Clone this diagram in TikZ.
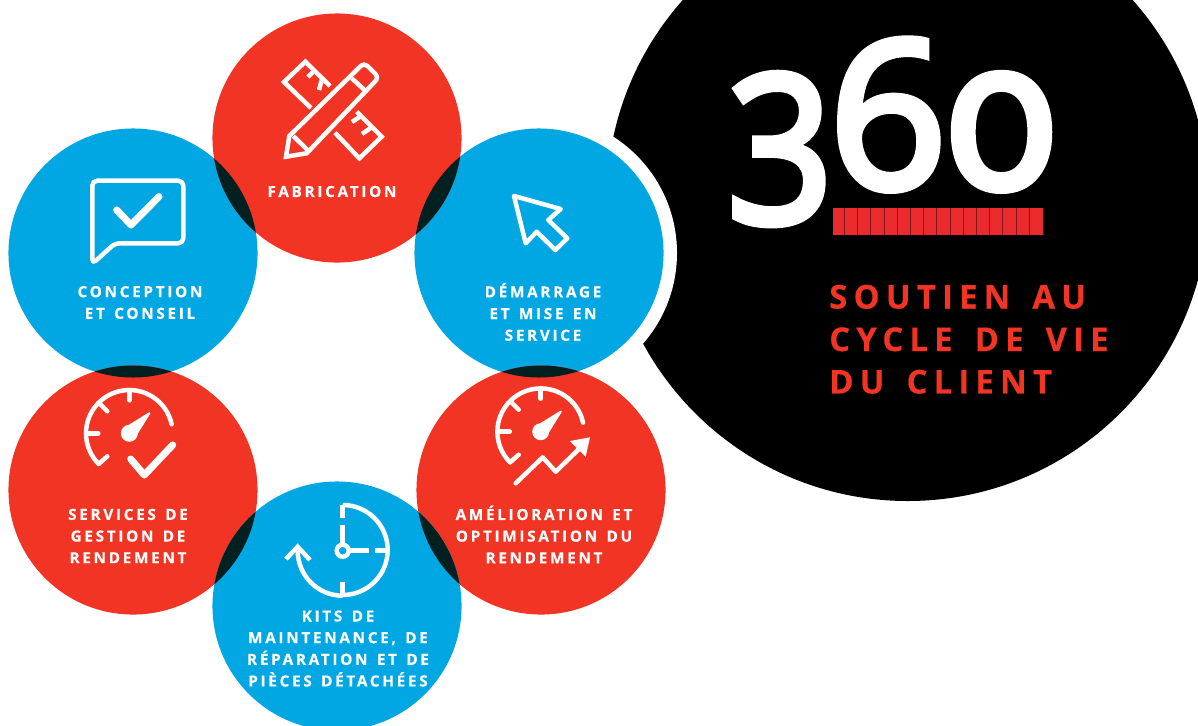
\documentclass[tikz,border=0pt]{standalone}
\usepackage{fontspec}
\setmainfont{Open Sans}
\newfontfamily\labelfont[LetterSpace=17.5,WordSpace=1.4,FakeBold=0.4]{Open Sans Bold}
\newfontfamily\titlefont[LetterSpace=19,WordSpace=1.5,FakeBold=0.4]{Open Sans Bold}
\newfontfamily\numfont[Numbers=OldStyle,FakeBold=3.9]{Open Sans}
\definecolor{cyclered}{HTML}{F13423}
\definecolor{cycleblue}{HTML}{00A7E3}
\definecolor{lens}{HTML}{02201F}
\definecolor{barred}{HTML}{EA2A2D}
\tikzset{
	bubble/.style={circle,minimum size=6.225cm,inner sep=0pt},
	caption/.style={text=white,align=center,inner sep=0pt,font=\labelfont\fontsize{10.9}{15.4}\selectfont},
	digit/.style={text=white,inner sep=0pt,anchor=base west,font=\numfont\fontsize{146}{146}\selectfont},
	thinicon/.style={draw=white,line width=3.2pt,line join=round,line cap=round},
	fatcheck/.style={draw=white,line width=5pt,line join=round,line cap=round}
}
% speedometer shared by two of the bubbles
\newcommand{\gaugeicon}[2]{
	\draw[thinicon] ({#1+43.3*cos(12)},{#2-43.3*sin(12)}) arc[start angle=-12,end angle=-225,radius=43.3];
	\draw[thinicon] (#1,#2-43.3) -- (#1,#2-33);
	\draw[thinicon] (#1-43.3,#2) -- (#1-31,#2);
	\draw[thinicon] (#1-29,#2-29) -- (#1-22,#2-22);
	\draw[thinicon] (#1-30.6,#2+30.6) -- (#1-22,#2+23);
	\fill[white] (#1,#2) circle (8.5);
	\filldraw[white,line width=0.8pt,line join=round] (#1-5,#2-5) -- (#1+20,#2-20.5) -- (#1+20.5,#2-20) -- (#1+5,#2+5) -- cycle;
}
\begin{document}
\begin{tikzpicture}[x=0.025cm,y=-0.025cm]
	\useasboundingbox (0,0) rectangle (1198,725);
	\clip (0,0) rectangle (1198,725);
	\fill[white] (0,0) rectangle (1198,725);
	\fill[black] (907.7,200) circle (301);
	\fill[white] (539,253) circle (138);

	\node[bubble,fill=cycleblue] (conception) at (133,253) {};
	\node[bubble,fill=cycleblue] (demarrage) at (539,253) {};
	\node[bubble,fill=cyclered] (services) at (133,490) {};
	\node[bubble,fill=cyclered] (amelioration) at (541,490) {};
	\node[bubble,fill=cycleblue] (kits) at (337,606) {};
	\node[bubble,fill=cyclered] (fabrication) at (337,138) {};

	% overlaps of neighbouring bubbles
	\begin{scope}
		\clip (fabrication.center) circle (124.5);
		\fill[lens] (conception.center) circle (124.5);
		\fill[lens] (demarrage.center) circle (124.5);
	\end{scope}
	\begin{scope}
		\clip (services.center) circle (124.5);
		\fill[lens] (conception.center) circle (124.5);
		\fill[lens] (kits.center) circle (124.5);
	\end{scope}
	\begin{scope}
		\clip (amelioration.center) circle (124.5);
		\fill[lens] (demarrage.center) circle (124.5);
		\fill[lens] (kits.center) circle (124.5);
	\end{scope}

	% ruler and pencil
	\draw[thinicon,line cap=butt,line join=miter] (311,108) -- (284,82) -- (305.3,61.7) -- (330,86);
	\draw[thinicon,line cap=butt] (314,71) -- (308,77);
	\draw[thinicon,line cap=butt] (322,79) -- (319,90);
	\draw[thinicon,line cap=butt,line join=miter] (335,132.7) -- (359.3,158.3) -- (381.7,136.7) -- (356.7,111.7);
	\draw[thinicon,line cap=butt] (361,116) -- (352,122);
	\draw[thinicon,line cap=butt] (372,127) -- (362,134);
	\draw[thinicon,line cap=butt,line join=miter] (286,156.7) -- (289.3,136) -- (360,66.7) .. controls (363,64) and (365,64) .. (367.5,66) -- (375.5,74) .. controls (377.5,76.5) and (377.5,79) .. (375,81.5) -- (306.7,153.3) -- cycle;
	\draw[thinicon,line cap=butt] (293.3,136) -- (309.3,151.7);
	\draw[thinicon,line cap=butt] (351.7,78.3) -- (366.7,92);

	% speech bubble
	\draw[thinicon,rounded corners=3.5] (92.3,264) -- (92.3,180.7) -- (183.3,180.7) -- (183.3,243.3) -- (115,243.3) -- cycle;
	\draw[fatcheck] (116.7,210) -- (131,225) -- (159,196.7);

	% cursor
	\draw[thinicon] (514,196) -- (560.7,209) -- (548.3,220) -- (567.3,238.3) -- (555.3,250) -- (536.7,231.7) -- (525.7,243.3) -- cycle;

	% gauges
	\gaugeicon{129.3}{433.3}
	\draw[fatcheck] (130.7,459) -- (144.3,475) -- (172.7,445);
	\gaugeicon{540.7}{431.7}
	\draw[thinicon] (515.7,483.3) -- (542.7,457.3) -- (555.7,471.7) -- (582,446);
	\fill[white] (570,441) -- (590,437.3) -- (585.7,456.7) -- cycle;

	% clock
	\draw[thinicon,line cap=butt] (342.7,505) arc[start angle=-90,end angle=90,radius=45];
	\draw[thinicon,line cap=butt] (342.7,505) -- (342.7,518);
	\draw[thinicon,line cap=butt] (342.7,525) -- (342.7,544);
	\draw[thinicon,line cap=butt] (350,550.7) -- (369.3,550.7);
	\draw[thinicon,line cap=butt] (375,550.7) -- (386.7,550.7);
	\draw[thinicon,line cap=butt] (342.7,581.7) -- (342.7,596.7);
	\draw[thinicon] (342.7,550.7) circle (6);
	\draw[thinicon,line cap=butt] (342.7,595.7) arc[start angle=90,end angle=180,radius=45];
	\draw[thinicon,line cap=butt,line join=miter] (286,559) -- (297.7,546.7) -- (310,560);

	\node[caption] (fabricationtext) at (332,191.5) {FABRICATION};
	\node[caption] (conceptiontext) at (140,302.5) {CONCEPTION\\ET CONSEIL};
	\node[caption] (demarragetext) at (543,312) {DÉMARRAGE\\ET MISE EN\\SERVICE};
	\node[caption] (servicestext) at (128,536) {SERVICES DE\\GESTION DE\\RENDEMENT};
	\node[caption] (ameliorationtext) at (544,534.5) {AMÉLIORATION ET\\OPTIMISATION DU\\RENDEMENT};
	\node[caption] (kitstext) at (338,648.5) {KITS DE\\MAINTENANCE, DE\\RÉPARATION ET DE\\PIÈCES DÉTACHÉES};

	\node[digit,xscale=0.9,transform shape] (three) at (727,188) {3};
	\node[digit] (six) at (829,188) {6};
	\node[digit] (zero) at (943,188) {0};
	\fill[barred] (832.7,208.3) rectangle (1042.7,235);
	\foreach \i in {0,...,14}
		\draw[barred!55!black,line width=0.45pt] ({844.3+13.2*\i},208.3) -- ({844.3+13.2*\i},235);
	\node[text=cyclered,inner sep=0pt,anchor=north west,align=left,font=\titlefont\fontsize{23.3}{30.2}\selectfont] (title) at (829,284.5) {SOUTIEN AU\\CYCLE DE VIE\\DU CLIENT};
\end{tikzpicture}
\end{document}
